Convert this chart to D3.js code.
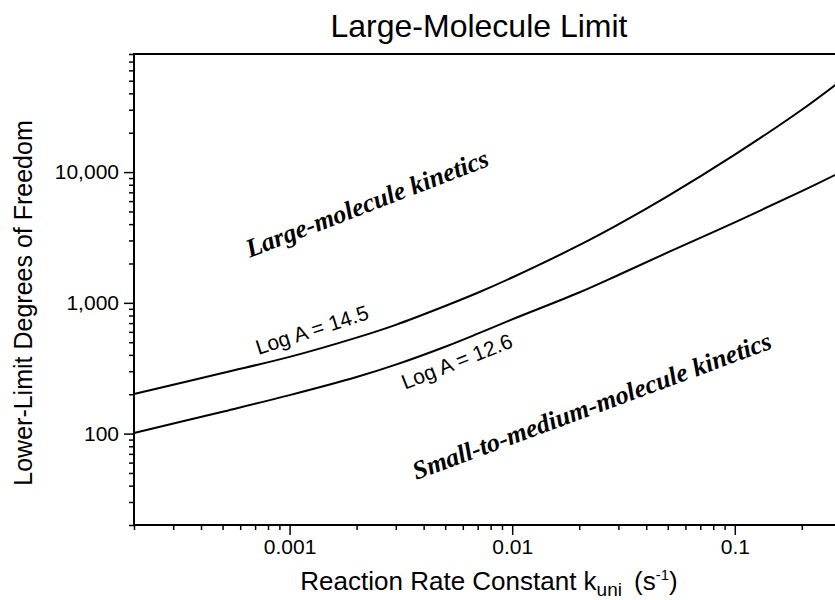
<!DOCTYPE html>
<html>
<head>
<meta charset="utf-8">
<script src="https://cdn.jsdelivr.net/npm/d3@7"></script>
<style>
  body { margin: 0; background: #fff; }
  svg { display: block; font-family: "Liberation Sans", Arial, sans-serif; }
</style>
</head>
<body>
<script>
// Data (log-log plot)
const rateK = [0.0002, 0.0005, 0.001, 0.002, 0.003, 0.005, 0.007, 0.01, 0.02, 0.03, 0.05, 0.1, 0.2, 0.3];
const dofLogA145 = [201, 291, 386, 542, 679, 946, 1194, 1563, 2760, 3981, 6550, 13600, 30000, 50100];
const dofLogA126 = [101, 147, 197, 271, 337, 462, 581, 748, 1200, 1633, 2430, 4130, 7160, 10000];

const xTickValues = [0.001, 0.01, 0.1];
const xTickLabels = ["0.001", "0.01", "0.1"];
const yTickValues = [100, 1000, 10000];
const yTickLabels = ["100", "1,000", "10,000"];

// Annotation text placed in data space (k, dof) with rotation in degrees
const annoText = ["Large-molecule kinetics", "Small-to-medium-molecule kinetics", "Log A = 14.5", "Log A = 12.6"];
const annoK = [0.0023, 0.0235, 0.00129, 0.0058];
const annoDof = [4990, 141, 550, 316];
const annoAngle = [-21, -20.3, -18, -21.5];
const annoSerif = [true, true, false, false];

const W = 835, H = 600;
const margin = { top: 54, left: 134, right: 841, bottom: 525 };

const svg = d3.select("body").append("svg")
  .attr("width", W)
  .attr("height", H);

const x = d3.scaleLog().domain([0.0002, 0.3]).range([margin.left, margin.right]);
const y = d3.scaleLog().domain([20, 80000]).range([margin.bottom, margin.top]);

// Title
svg.append("text")
  .attr("x", 479)
  .attr("y", 37)
  .attr("text-anchor", "middle")
  .style("font-size", "32px")
  .text("Large-Molecule Limit");

// minor + major ticks, y axis
const yMinor = y.ticks().filter(d => !yTickValues.includes(d));
svg.append("g")
  .attr("transform", `translate(${margin.left},0)`)
  .call(d3.axisLeft(y).tickValues(yMinor).tickSize(5).tickFormat(""))
  .call(g => g.select(".domain").remove())
  .call(g => g.selectAll("line").attr("stroke-width", 1.5));

svg.append("g")
  .attr("transform", `translate(${margin.left},0)`)
  .call(d3.axisLeft(y).tickValues(yTickValues).tickSize(10).tickPadding(5)
    .tickFormat((d, i) => yTickLabels[i]))
  .call(g => g.select(".domain").remove())
  .call(g => g.selectAll("line").attr("stroke-width", 1.5))
  .call(g => g.selectAll("text").style("font-size", "21px").attr("fill", "#000"));

// minor + major ticks, x axis
const xMinor = x.ticks().filter(d => !xTickValues.some(v => Math.abs(v - d) < 1e-12));
svg.append("g")
  .attr("transform", `translate(0,${margin.bottom})`)
  .call(d3.axisBottom(x).tickValues(xMinor).tickSize(5).tickFormat(""))
  .call(g => g.select(".domain").remove())
  .call(g => g.selectAll("line").attr("stroke-width", 1.5));

svg.append("g")
  .attr("transform", `translate(0,${margin.bottom})`)
  .call(d3.axisBottom(x).tickValues(xTickValues).tickSize(10).tickPadding(4)
    .tickFormat((d, i) => xTickLabels[i]))
  .call(g => g.select(".domain").remove())
  .call(g => g.selectAll("line").attr("stroke-width", 1.5))
  .call(g => g.selectAll("text").style("font-size", "21px").attr("fill", "#000"));

// Frame
svg.append("rect")
  .attr("x", margin.left)
  .attr("y", margin.top)
  .attr("width", margin.right - margin.left)
  .attr("height", margin.bottom - margin.top)
  .attr("fill", "none")
  .attr("stroke", "#000")
  .attr("stroke-width", 2);

// Curves
const line = d3.line()
  .x(d => x(d[0]))
  .y(d => y(d[1]))
  .curve(d3.curveCatmullRom.alpha(0.5));

[dofLogA145, dofLogA126].forEach(series => {
  svg.append("path")
    .datum(rateK.map((k, i) => [k, series[i]]))
    .attr("d", line)
    .attr("fill", "none")
    .attr("stroke", "#000")
    .attr("stroke-width", 2);
});

// Annotations
annoText.forEach((t, i) => {
  const px = x(annoK[i]), py = y(annoDof[i]);
  svg.append("text")
    .attr("transform", `translate(${px},${py}) rotate(${annoAngle[i]})`)
    .attr("text-anchor", "middle")
    .style("font-family", annoSerif[i] ? "'Liberation Serif', 'Times New Roman', serif" : null)
    .style("font-weight", annoSerif[i] ? "bold" : null)
    .style("font-style", annoSerif[i] ? "italic" : null)
    .style("font-size", annoSerif[i] ? "26px" : "21px")
    .text(t);
});

// Axis titles
svg.append("text")
  .attr("transform", "translate(32,303) rotate(-90)")
  .attr("text-anchor", "middle")
  .style("font-size", "25px")
  .text("Lower-Limit Degrees of Freedom");

const xt = svg.append("text")
  .attr("x", 489)
  .attr("y", 590)
  .attr("text-anchor", "middle")
  .style("font-size", "26px");
xt.append("tspan").text("Reaction Rate Constant k");
xt.append("tspan").attr("dy", 6).style("font-size", "19px").text("uni");
xt.append("tspan").attr("dy", -6).attr("dx", 12).text("(s");
xt.append("tspan").attr("dy", -10).style("font-size", "15px").text("-1");
xt.append("tspan").attr("dy", 10).text(")");
</script>
</body>
</html>
